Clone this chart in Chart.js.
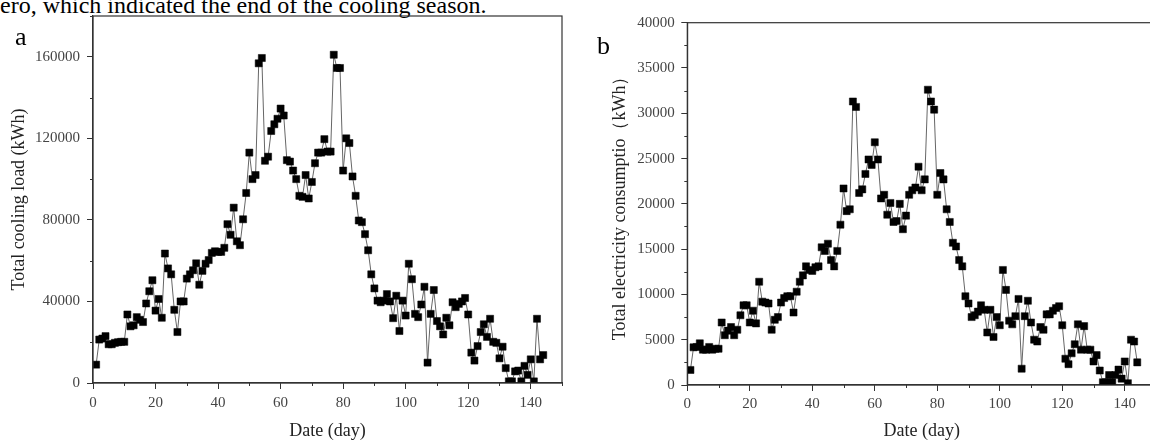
<!DOCTYPE html>
<html>
<head>
<meta charset="utf-8">
<script src="https://cdn.jsdelivr.net/npm/chart.js@4.4.0/dist/chart.umd.min.js"></script>
<style>
  html, body { margin: 0; padding: 0; overflow: hidden; background: #fff; }
  body { position: relative; width: 1150px; height: 442px; font-family: "Liberation Serif", "Times New Roman", serif; }
  #textOben { position: absolute; left: 0; top: -7px; font-size: 24px; line-height: 24px; white-space: nowrap; color: #000; }
  .panel { position: absolute; font-size: 26px; line-height: 26px; color: #000; }
  #canvasLinks { position: absolute; left: 0; top: 0; }
  #canvasRechts { position: absolute; left: 580px; top: 0; }
</style>
</head>
<body>
<div id="textOben">ero, which indicated the end of the cooling season.</div>
<canvas id="canvasLinks" width="580" height="442"></canvas>
<canvas id="canvasRechts" width="590" height="442"></canvas>
<div class="panel" style="left:15px; top:24px;">a</div>
<div class="panel" style="left:597px; top:33px;">b</div>

<script>
// Tage der Kühlperiode
var days = [
  1, 2, 3, 4, 5, 6, 7, 8, 9, 10, 11, 12, 13, 14, 15, 16, 17, 18, 19, 20,
  21, 22, 23, 24, 25, 26, 27, 28, 29, 30, 31, 32, 33, 34, 35, 36, 37, 38, 39, 40,
  41, 42, 43, 44, 45, 46, 47, 48, 49, 50, 51, 52, 53, 54, 55, 56, 57, 58, 59, 60,
  61, 62, 63, 64, 65, 66, 67, 68, 69, 70, 71, 72, 73, 74, 75, 76, 77, 78, 79, 80,
  81, 82, 83, 84, 85, 86, 87, 88, 89, 90, 91, 92, 93, 94, 95, 96, 97, 98, 99, 100,
  101, 102, 103, 104, 105, 106, 107, 108, 109, 110, 111, 112, 113, 114, 115, 116, 117, 118, 119, 120,
  121, 122, 123, 124, 125, 126, 127, 128, 129, 130, 131, 132, 133, 134, 135, 136, 137, 138, 139, 140,
  141, 142, 143, 144
];

// a: total cooling load (kWh)
var coolingLoad = [
  9000, 21300, 21800, 23000, 19000, 19000, 19700, 20000, 20200, 20200,
  33600, 27800, 28300, 32300, 31000, 29900, 39000, 45000, 50400, 35500,
  41200, 32000, 63500, 56200, 53300, 35900, 25000, 40000, 40000, 51200,
  53300, 55300, 58700, 48200, 55000, 58500, 60300, 63800, 64600, 64300,
  64300, 66300, 77900, 72700, 86000, 69500, 67600, 80300, 93200, 113000,
  100000, 102000, 156800, 159400, 109000, 111000, 123600, 126900, 129600, 134600,
  131200, 109300, 108600, 104200, 100000, 91800, 91300, 102000, 90500, 98600,
  107800, 113000, 113000, 119600, 113500, 113500, 161000, 154500, 154500, 104200,
  120000, 117700, 101300, 91800, 79700, 78900, 73000, 65100, 53300, 46400,
  40400, 39600, 40400, 43600, 40000, 31800, 42800, 25500, 40400, 33100,
  58500, 50900, 33900, 32300, 38500, 47200, 10000, 33900, 45600, 30400,
  27800, 23800, 32000, 28300, 39600, 37200, 38800, 40000, 41700, 33600,
  14900, 11000, 18100, 25000, 28800, 22600, 31500, 20200, 19700, 12100,
  17800, 7300, 800, 800, 5700, 6100, 800, 8400, 4000, 11600,
  800, 31500, 11600, 13700
];

// b: total electricity consumption (kWh)
var electricity = [
  1660, 4160, 4200, 4600, 3900, 3900, 4200, 3900, 4000, 4000,
  6900, 5500, 6000, 6400, 5500, 6100, 7700, 8800, 8800, 6900,
  8200, 6800, 11400, 9200, 9100, 9000, 6100, 7200, 7500, 9100,
  9600, 9800, 9800, 8000, 10300, 11400, 12100, 13100, 12700, 12600,
  13000, 13100, 15200, 14800, 15600, 13800, 13100, 14800, 17700, 21700,
  19200, 19400, 31300, 30700, 21200, 21600, 23300, 24900, 24300, 26800,
  24900, 20600, 21000, 18800, 20100, 18000, 18100, 20000, 17200, 18700,
  21000, 21500, 21800, 24100, 21500, 22700, 32600, 31300, 30400, 21000,
  23400, 22700, 19400, 18000, 15700, 15300, 13800, 13100, 9800, 9000,
  7500, 7700, 8100, 8800, 8300, 5800, 8300, 5300, 7500, 6600,
  12700, 10500, 7100, 6700, 7600, 9500, 1800, 7600, 9300, 6900,
  5000, 4800, 6400, 6100, 7800, 7800, 8200, 8500, 8700, 6600,
  2900, 2300, 3500, 4500, 6700, 3900, 6500, 3900, 3900, 2600,
  3300, 1600, 300, 300, 1100, 300, 1100, 1700, 700, 2600,
  200, 5000, 4800, 2500
];

var schrift = '"Liberation Serif", "Times New Roman", serif';

// Rahmen um die Zeichenfläche (oben und rechts) und kurze Zwischenstriche
var rahmenPlugin = {
  id: "rahmen",
  afterDraw: function (chart) {
    var a = chart.chartArea;
    var ctx = chart.ctx;
    ctx.save();
    ctx.strokeStyle = "#333";
    ctx.lineWidth = 1.2;
    ctx.strokeRect(a.left, a.top, a.right - a.left, a.bottom - a.top);

    // kurze Striche ohne Beschriftung
    ctx.lineWidth = 1;
    ctx.beginPath();
    chart.scales.x.ticks.forEach(function (t) {
      if (t.label === "") {
        var px = Math.round(chart.scales.x.getPixelForValue(t.value)) + 0.5;
        ctx.moveTo(px, a.bottom);
        ctx.lineTo(px, a.bottom + 3);
      }
    });
    chart.scales.y.ticks.forEach(function (t) {
      if (t.label === "") {
        var py = Math.round(chart.scales.y.getPixelForValue(t.value)) + 0.5;
        ctx.moveTo(a.left, py);
        ctx.lineTo(a.left - 3, py);
      }
    });
    ctx.stroke();
    ctx.restore();
  }
};

function strichFarbe(context) {
  return context.tick && context.tick.label === "" ? "rgba(0,0,0,0)" : "#333";
}

function erstelleDiagramm(canvasID, werte, yMax, yStep, yLabelStep, yTitel, lage) {
  var punkte = [];
  for (var i = 0; i < days.length; i++) {
    punkte.push({ x: days[i], y: werte[i] });
  }

  var canvas = document.getElementById(canvasID).getContext("2d");
  return new Chart(canvas, {
    type: "line",
    data: {
      datasets: [
        {
          data: punkte,
          borderColor: "#666",
          borderWidth: 1,
          tension: 0,
          pointStyle: "rect",
          pointRadius: 5,
          pointBackgroundColor: "#000",
          pointBorderColor: "#000",
          pointBorderWidth: 0.5,
        },
      ],
    },
    options: {
      responsive: false,
      animation: false,
      layout: {
        padding: { top: lage.top, right: lage.right, left: 0, bottom: 0 },
      },
      plugins: {
        legend: { display: false },
        tooltip: { enabled: false },
      },
      scales: {
        x: {
          type: "linear",
          min: 0,
          max: 150,
          afterFit: function (scale) { scale.height = lage.xHoehe; },
          ticks: {
            stepSize: 10,
            autoSkip: false,
            maxRotation: 0,
            padding: lage.xPad,
            color: "#444",
            font: { family: schrift, size: 15 },
            callback: function (v) { return (v % 20 === 0 && v <= 140) ? String(v) : ""; },
          },
          grid: { drawOnChartArea: false, tickLength: 6, color: "#333", tickColor: strichFarbe },
          border: { color: "#333", width: 1.2 },
          title: {
            display: true,
            text: "Date (day)",
            color: "#222",
            font: { family: schrift, size: 18 },
            padding: { top: 0, bottom: 0 },
          },
        },
        y: {
          min: 0,
          max: yMax,
          afterFit: function (scale) { scale.width = lage.yBreite; },
          ticks: {
            stepSize: yStep,
            autoSkip: false,
            padding: lage.yPad,
            color: "#444",
            font: { family: schrift, size: 15 },
            callback: function (v) { return (v % yLabelStep === 0) ? String(v) : ""; },
          },
          grid: { drawOnChartArea: false, tickLength: 6, color: "#333", tickColor: strichFarbe },
          border: { color: "#333", width: 1.2 },
          title: {
            display: true,
            text: yTitel,
            color: "#222",
            font: { family: schrift, size: 18 },
            padding: { top: lage.titelPad, bottom: 0 },
          },
        },
      },
    },
    plugins: [rahmenPlugin],
  });
}

window.chartLinks = erstelleDiagramm("canvasLinks", coolingLoad, 180000, 20000, 40000,
  "Total cooling load (kWh)",
  { top: 13, right: 18, yBreite: 93, xHoehe: 59, xPad: 5.5, yPad: 7, titelPad: 8.7 });

window.chartRechts = erstelleDiagramm("canvasRechts", electricity, 40000, 2500, 5000,
  "Total electricity consumptio（kWh）",
  { top: 22.7, right: 14, yBreite: 107.3, xHoehe: 57, xPad: 4, yPad: 6.5, titelPad: 29 });
</script>
</body>
</html>
